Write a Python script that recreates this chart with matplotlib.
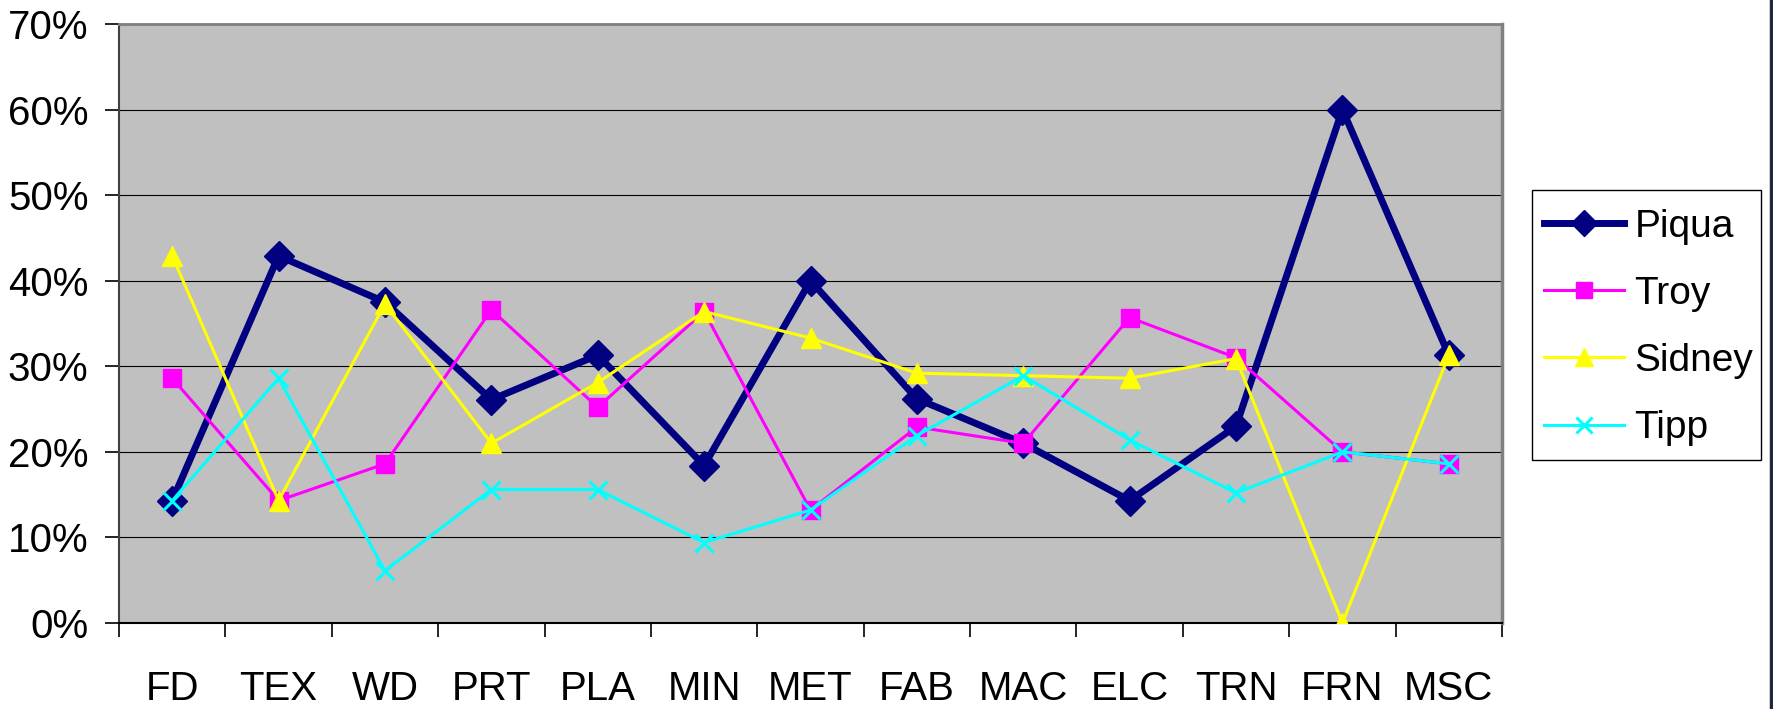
import matplotlib
matplotlib.use("Agg")
import matplotlib.pyplot as plt
from matplotlib.lines import Line2D
from matplotlib.patches import Rectangle
from matplotlib.ticker import FixedLocator, PercentFormatter

plt.rcParams['font.family'] = ['Liberation Sans', 'DejaVu Sans']

# share of each sector, in percent
categories = ['FD', 'TEX', 'WD', 'PRT', 'PLA', 'MIN', 'MET', 'FAB', 'MAC', 'ELC', 'TRN', 'FRN', 'MSC']
piqua = [14.3, 42.9, 37.5, 26.1, 31.3, 18.4, 40.0, 26.2, 21.0, 14.3, 23.0, 60.0, 31.3]
troy = [28.6, 14.3, 18.6, 36.6, 25.2, 36.4, 13.2, 22.9, 21.0, 35.7, 31.0, 20.0, 18.6]
sidney = [42.9, 14.3, 37.3, 21.0, 28.1, 36.4, 33.3, 29.2, 28.9, 28.6, 30.9, 0.0, 31.3]
tipp = [14.3, 28.6, 6.1, 15.6, 15.6, 9.4, 13.2, 21.9, 28.9, 21.4, 15.2, 20.0, 18.6]
y_ticks = [0, 10, 20, 30, 40, 50, 60, 70]

FS = 29
W, H = 1773, 709
fig = plt.figure(figsize=(W / 100, H / 100), dpi=100)
ax = fig.add_axes([119 / W, 1 - 623 / H, (1502 - 119) / W, (623 - 24) / H])
ax.set_facecolor('#c0c0c0')

x = list(range(len(categories)))

# series styles, drawn in this order so later ones sit on top
ax.plot(x, piqua, color='#000080', lw=5, marker='D', ms=15, label='Piqua', zorder=3)
ax.plot(x, troy, color='#ff00ff', lw=2.2, marker='s', ms=13, label='Troy', zorder=4)
ax.plot(x, sidney, color='#ffff00', lw=2.2, marker='^', ms=15, label='Sidney', zorder=5)
ax.plot(x, tipp, color='#00ffff', lw=2.2, marker='x', ms=13, mew=2.2, label='Tipp', zorder=6)

ax.set_xlim(-0.5, len(categories) - 0.5)
ax.set_ylim(0, 70)
ax.set_yticks(y_ticks)
ax.yaxis.set_major_formatter(PercentFormatter(decimals=0))
ax.yaxis.grid(True, color='black', lw=0.8)
ax.set_axisbelow(True)

ax.set_xticks(x)
ax.set_xticklabels(categories)
ax.xaxis.set_minor_locator(FixedLocator([i - 0.5 for i in range(len(categories) + 1)]))
ax.tick_params(axis='x', which='major', length=0, pad=34, labelsize=FS)
ax.tick_params(axis='x', which='minor', length=10, width=1.2, color='black')
ax.tick_params(axis='y', length=10, width=1.2, pad=12, labelsize=FS)

ax.spines['left'].set_color('#404040')
ax.spines['left'].set_linewidth(1.5)
ax.spines['bottom'].set_color('black')
ax.spines['bottom'].set_linewidth(1.5)
ax.spines['top'].set_color('#808080')
ax.spines['top'].set_linewidth(2)
ax.spines['right'].set_color('#808080')
ax.spines['right'].set_linewidth(2.5)

# legend entries without frame; the box is drawn separately so the padding can match
leg = ax.legend(loc='center left', bbox_to_anchor=(1544 / W, 1 - 327.5 / H),
                bbox_transform=fig.transFigure, fontsize=28, frameon=False,
                handlelength=2.05, handletextpad=0.28, labelspacing=0.8,
                borderpad=0, borderaxespad=0, markerscale=0.9)
fig.add_artist(Rectangle((1532 / W, 1 - 460 / H), (1761 - 1532) / W, (460 - 190) / H,
                         transform=fig.transFigure, fill=False, edgecolor='black', lw=1.0))

# dark edge of the chart area on the right side
fig.add_artist(Line2D([1770.5 / W, 1770.5 / W], [0, 1], color='#1a2a3a', lw=2.5))

fig.savefig('out.png', dpi=100, facecolor='white')
